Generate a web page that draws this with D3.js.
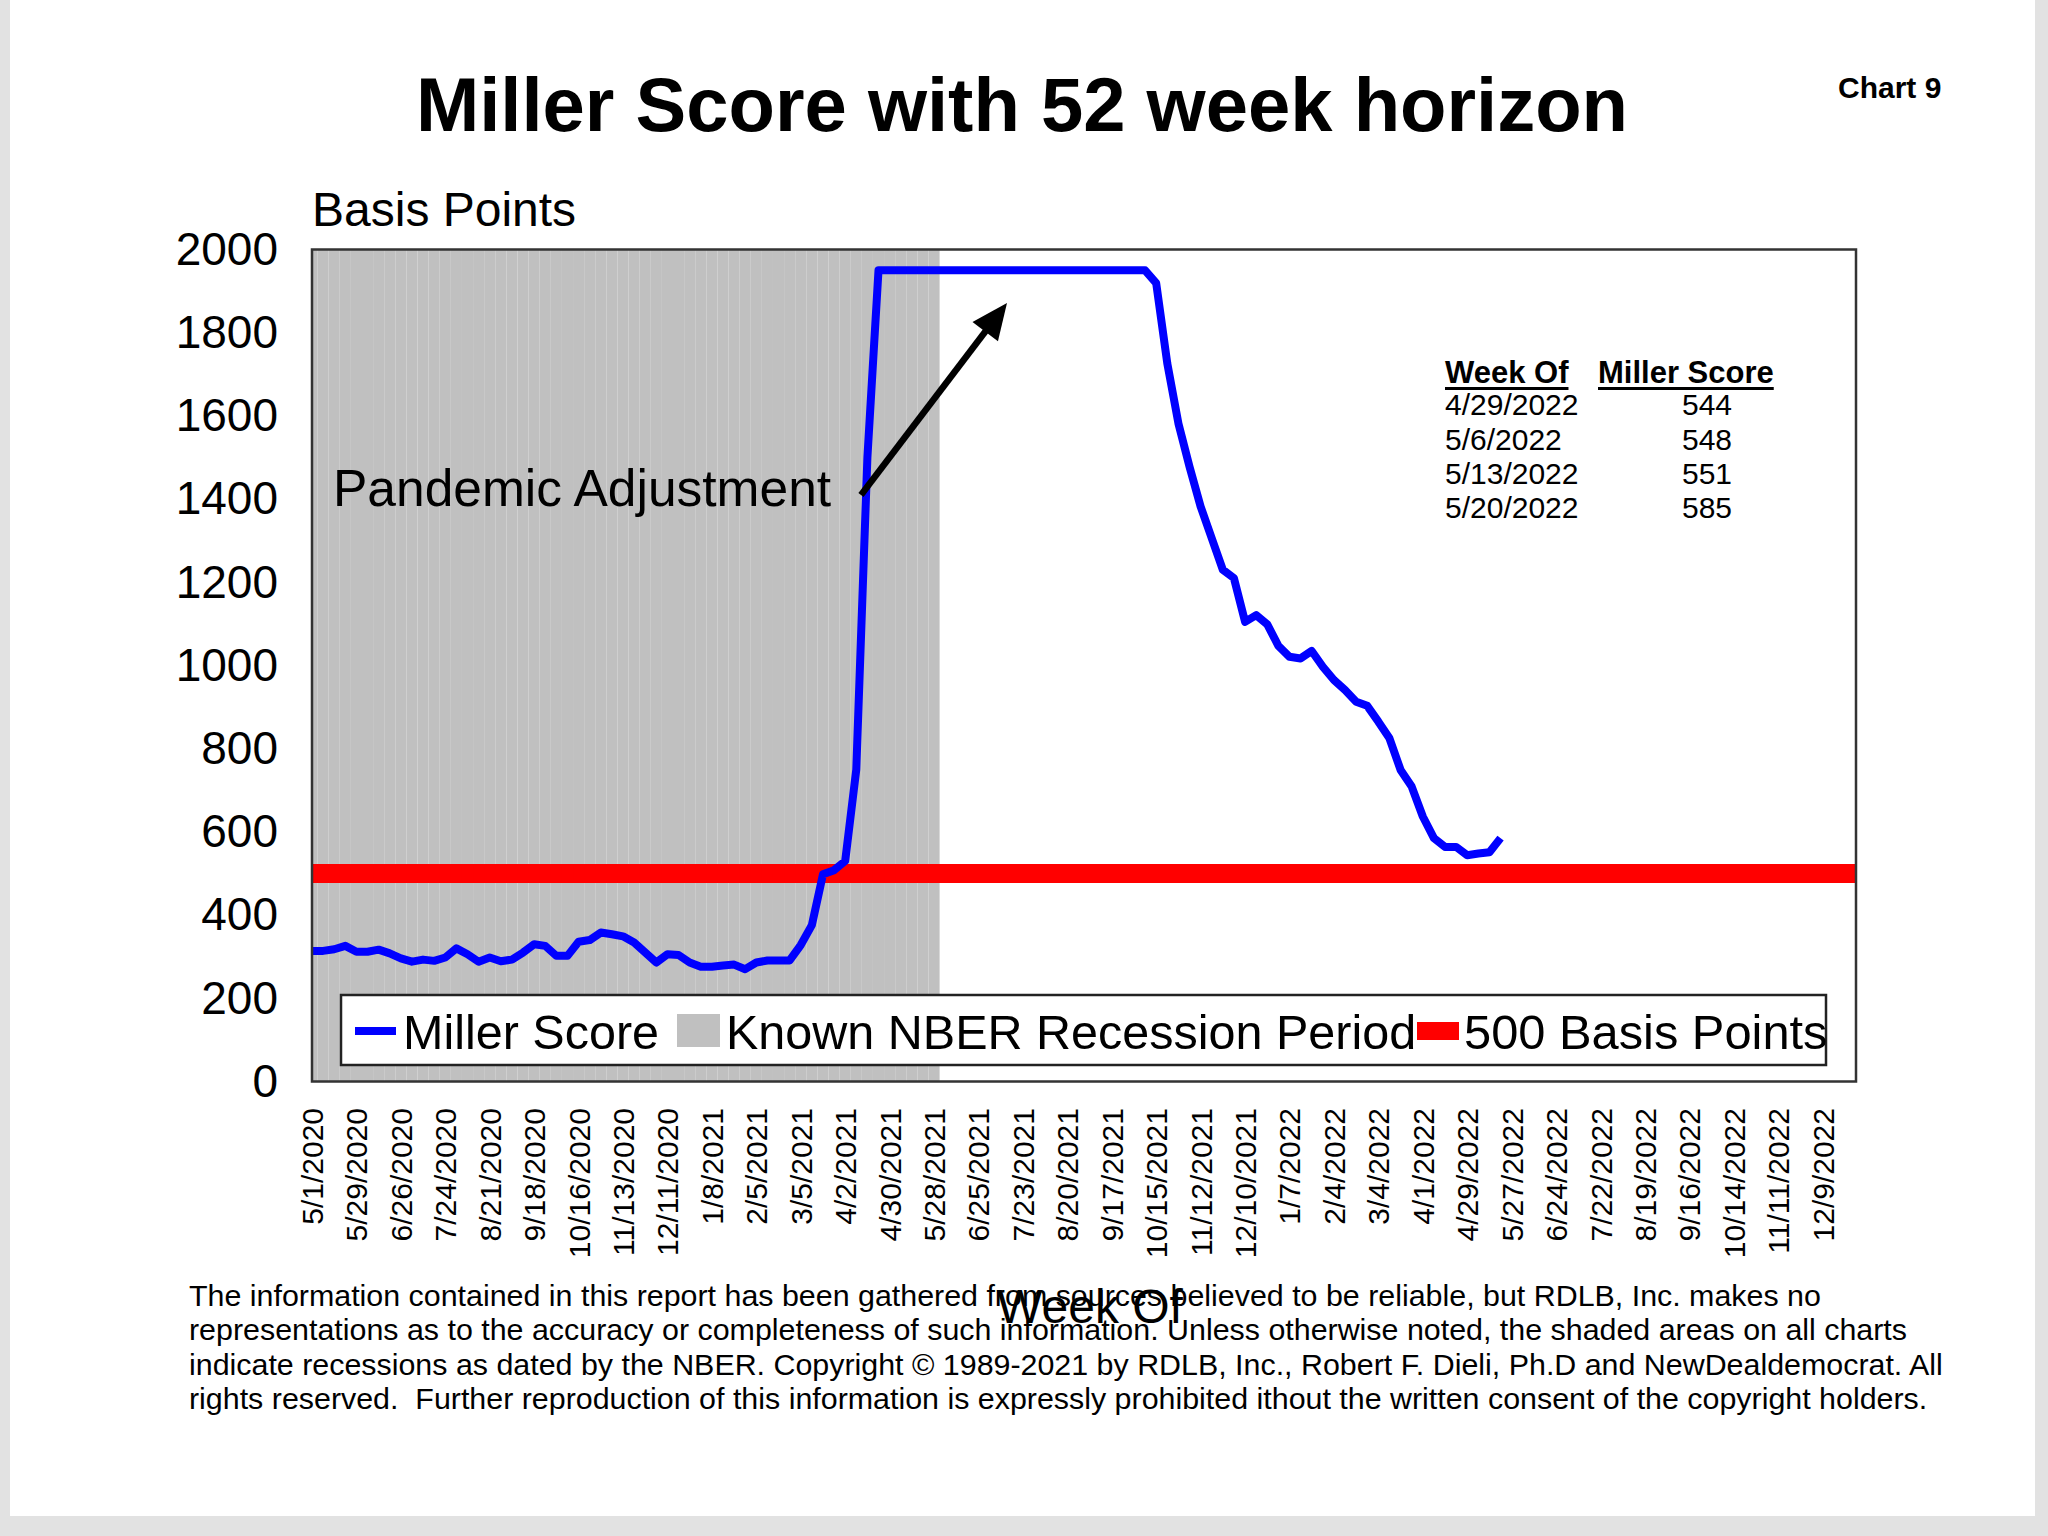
<!DOCTYPE html>
<html><head><meta charset="utf-8">
<script src="https://cdn.jsdelivr.net/npm/d3@7"></script>
<style>
html,body{margin:0;padding:0;background:#e2e2e2;}
svg{display:block;}
text{font-family:"Liberation Sans",Arial,Helvetica,sans-serif;fill:#000;}
</style></head><body>
<svg id="chart" width="2048" height="1536"></svg>
<script>
// ---------------- DATA ----------------
const firstWeek = "2020-05-01";
const weekCount = 140;
const millerScore = [
  314, 314, 318, 326, 312, 312, 317, 308, 296, 288,
  293, 290, 298, 320, 306, 288, 298, 289, 293, 310,
  330, 326, 302, 302, 336, 340, 358, 354, 349, 334,
  310, 286, 306, 304, 286, 276, 276, 279, 281, 270,
  286, 291, 291, 291, 328, 376, 498, 508, 530, 750,
  1500, 1950, 1950, 1950, 1950, 1950, 1950, 1950, 1950, 1950,
  1950, 1950, 1950, 1950, 1950, 1950, 1950, 1950, 1950, 1950,
  1950, 1950, 1950, 1950, 1950, 1950, 1919, 1726, 1582, 1478,
  1382, 1306, 1230, 1210, 1105, 1121, 1099, 1047, 1021, 1017,
  1035, 997, 965, 941, 913, 903, 865, 825, 749, 709,
  637, 585, 564, 564, 544, 548, 551, 585
];
const thresholdValue = 500;
const recessionStart = "5/1/2020";
const recessionEnd = "5/28/2021";
const tickLabels = [
  "5/1/2020","5/29/2020","6/26/2020","7/24/2020","8/21/2020","9/18/2020","10/16/2020",
  "11/13/2020","12/11/2020","1/8/2021","2/5/2021","3/5/2021","4/2/2021","4/30/2021",
  "5/28/2021","6/25/2021","7/23/2021","8/20/2021","9/17/2021","10/15/2021","11/12/2021",
  "12/10/2021","1/7/2022","2/4/2022","3/4/2022","4/1/2022","4/29/2022","5/27/2022",
  "6/24/2022","7/22/2022","8/19/2022","9/16/2022","10/14/2022","11/11/2022","12/9/2022"
];
const yTicks = [0, 200, 400, 600, 800, 1000, 1200, 1400, 1600, 1800, 2000];
const tableWeeks = ["4/29/2022", "5/6/2022", "5/13/2022", "5/20/2022"];
const tableScores = [544, 548, 551, 585];
const legendLabels = ["Miller Score", "Known NBER Recession Period", "500 Basis Points"];
const titleText = "Miller Score with 52 week horizon";
const footerLines = [
  "The information contained in this report has been gathered from sources believed to be reliable, but RDLB, Inc. makes no",
  "representations as to the accuracy or completeness of such information. Unless otherwise noted, the shaded areas on all charts",
  "indicate recessions as dated by the NBER. Copyright \u00a9 1989-2021 by RDLB, Inc., Robert F. Dieli, Ph.D and NewDealdemocrat. All",
  "rights reserved.  Further reproduction of this information is expressly prohibited ithout the written consent of the copyright holders."
];

// ---------------- BUILD ----------------
const fmt = d3.timeFormat("%-m/%-d/%Y");
const start = d3.timeParse("%Y-%m-%d")(firstWeek);
const categories = d3.range(weekCount).map(i => fmt(d3.timeDay.offset(start, 7 * i)));
const series = millerScore.map((v, i) => ({cat: categories[i], v}));

const svg = d3.select("#chart");
const L = 312, R = 1856, T = 249.5, B = 1081.5;

// page
svg.append("rect").attr("x", 10).attr("y", 0).attr("width", 2025).attr("height", 1516).attr("fill", "#fff");

const x = d3.scalePoint().domain(categories).range([L, R]).padding(0);
const y = d3.scaleLinear().domain([0, 2000]).range([B, T]);
const step = x.step();

svg.append("defs").append("clipPath").attr("id", "plotclip")
  .append("rect").attr("x", L).attr("y", T).attr("width", R - L).attr("height", B - T);

// plot background
svg.append("rect").attr("x", L).attr("y", T).attr("width", R - L).attr("height", B - T).attr("fill", "#fff");

// recession shading (columns)
const i0 = categories.indexOf(recessionStart), i1 = categories.indexOf(recessionEnd);
const recCats = categories.slice(i0, i1 + 1);
svg.append("g").attr("clip-path", "url(#plotclip)")
  .selectAll("rect").data(recCats).join("rect")
  .attr("x", d => x(d) - step / 2)
  .attr("width", step)
  .attr("y", y(2000))
  .attr("height", y(0) - y(2000))
  .attr("fill", "#c0c0c0");

// threshold line
svg.append("line")
  .attr("x1", x(categories[0])).attr("x2", x(categories[categories.length - 1]))
  .attr("y1", y(thresholdValue)).attr("y2", y(thresholdValue))
  .attr("stroke", "#ff0000").attr("stroke-width", 19);

// Miller score line
svg.append("path").datum(series)
  .attr("fill", "none").attr("stroke", "#0000ff").attr("stroke-width", 8)
  .attr("stroke-linejoin", "round").attr("stroke-linecap", "butt")
  .attr("d", d3.line().x(d => x(d.cat)).y(d => y(d.v)));

// plot frame
svg.append("rect").attr("x", L).attr("y", T).attr("width", R - L).attr("height", B - T)
  .attr("fill", "none").attr("stroke", "#333").attr("stroke-width", 2.5);

// y axis
const ya = svg.append("g").attr("transform", `translate(${L},0)`)
  .call(d3.axisLeft(y).tickValues(yTicks).tickFormat(d3.format("d")).tickSize(0).tickPadding(34));
ya.select(".domain").remove();
ya.selectAll("text").attr("font-size", 46).attr("font-family", "Liberation Sans, Arial, sans-serif").attr("fill", "#000");

// x axis
const xa = svg.append("g").attr("transform", `translate(0,${B})`)
  .call(d3.axisBottom(x).tickValues(tickLabels).tickSize(0));
xa.select(".domain").remove();
xa.selectAll("text")
  .attr("font-size", 30).attr("font-family", "Liberation Sans, Arial, sans-serif").attr("fill", "#000")
  .attr("text-anchor", "end").attr("transform", "rotate(-90)")
  .attr("x", -26.5).attr("y", 0).attr("dy", "0.35em");

// titles
svg.append("text").attr("x", 1022).attr("y", 131).attr("text-anchor", "middle")
  .attr("font-size", 76).attr("font-weight", "bold").text(titleText);
svg.append("text").attr("x", 1838).attr("y", 98)
  .attr("font-size", 30).attr("font-weight", "bold").text("Chart 9");
svg.append("text").attr("x", 312).attr("y", 226).attr("font-size", 48).text("Basis Points");
svg.append("text").attr("x", 1090).attr("y", 1323).attr("text-anchor", "middle").attr("font-size", 48).text("Week Of");

// legend
const lg = svg.append("g");
lg.append("rect").attr("x", 341).attr("y", 995).attr("width", 1485).attr("height", 70)
  .attr("fill", "#fff").attr("stroke", "#222").attr("stroke-width", 2.5);
lg.append("line").attr("x1", 355).attr("x2", 396).attr("y1", 1031).attr("y2", 1031)
  .attr("stroke", "#0000ff").attr("stroke-width", 8);
lg.append("text").attr("x", 403).attr("y", 1049).attr("font-size", 48.5).text(legendLabels[0]);
lg.append("rect").attr("x", 677).attr("y", 1014).attr("width", 43).attr("height", 33).attr("fill", "#c0c0c0");
lg.append("text").attr("x", 726).attr("y", 1049).attr("font-size", 48.5).text(legendLabels[1]);
lg.append("rect").attr("x", 1417).attr("y", 1022).attr("width", 42).attr("height", 18).attr("fill", "#ff0000");
lg.append("text").attr("x", 1464).attr("y", 1049).attr("font-size", 48.8).text(legendLabels[2]);

// annotation
svg.append("text").attr("x", 333).attr("y", 506).attr("font-size", 51.5).text("Pandemic Adjustment");
const ax0 = 861, ay0 = 495, ax1 = 1007, ay1 = 303;
const dx = ax1 - ax0, dy = ay1 - ay0, len = Math.hypot(dx, dy), ux = dx / len, uy = dy / len;
const headL = 36, headW = 16;
const bx = ax1 - ux * headL, by = ay1 - uy * headL;
svg.append("line").attr("x1", ax0).attr("y1", ay0).attr("x2", bx + ux * 4).attr("y2", by + uy * 4)
  .attr("stroke", "#000").attr("stroke-width", 6.5);
svg.append("polygon").attr("fill", "#000")
  .attr("points", [[ax1, ay1], [bx - uy * headW, by + ux * headW], [bx + uy * headW, by - ux * headW]].map(p => p.join(",")).join(" "));

// table
const tb = svg.append("g");
const h1 = tb.append("text").attr("x", 1445).attr("y", 383).attr("font-size", 31).attr("font-weight", "bold").text("Week Of");
const h2 = tb.append("text").attr("x", 1598).attr("y", 383).attr("font-size", 31).attr("font-weight", "bold").text("Miller Score");
[h1, h2].forEach(h => {
  const w = h.node().getComputedTextLength();
  const hx = +h.attr("x");
  tb.append("line").attr("x1", hx).attr("x2", hx + w).attr("y1", 388.5).attr("y2", 388.5)
    .attr("stroke", "#000").attr("stroke-width", 3);
});
const rowY = [415, 450, 484, 518];
tb.selectAll("text.wk").data(tableWeeks).join("text").attr("class", "wk")
  .attr("x", 1445).attr("y", (d, i) => rowY[i]).attr("font-size", 30).text(d => d);
tb.selectAll("text.sc").data(tableScores).join("text").attr("class", "sc")
  .attr("x", 1707).attr("y", (d, i) => rowY[i]).attr("text-anchor", "middle").attr("font-size", 30).text(d => d);

// footer
svg.append("g").selectAll("text").data(footerLines).join("text")
  .attr("x", 189).attr("y", (d, i) => 1306 + i * 34.4).attr("font-size", 30.4)
  .style("white-space", "pre").text(d => d);
</script>
</body></html>
